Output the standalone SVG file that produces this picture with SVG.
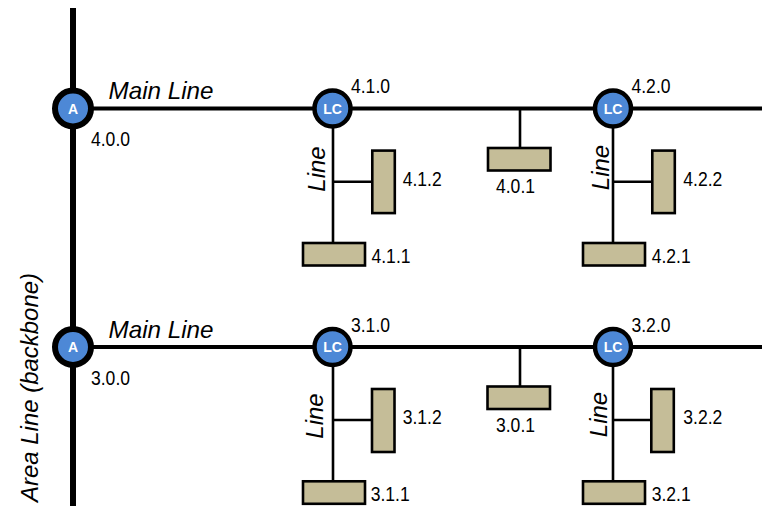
<svg xmlns="http://www.w3.org/2000/svg" width="762" height="506" viewBox="0 0 762 506">
<style>
.bb{stroke:#000;stroke-width:6;fill:none}
.ml{stroke:#000;stroke-width:4;fill:none}
.ln{stroke:#000;stroke-width:2.6;fill:none}
.dev{fill:#c5bd98;stroke:#000;stroke-width:2.6}
.area{fill:#4d88d6;stroke:#000;stroke-width:6}
.lc{fill:#4d88d6;stroke:#000;stroke-width:4.5}
.ct{font-family:"Liberation Sans",Arial,sans-serif;font-weight:bold;fill:#fff;text-anchor:middle}
.lbl{font-family:"Liberation Sans",Arial,sans-serif;font-size:20px;fill:#000}
.it{font-family:"Liberation Sans",Arial,sans-serif;font-size:24px;font-style:italic;fill:#000}
</style>
<g id="connectors">
  <line class="bb" x1="73" y1="8" x2="73" y2="506"/>
  <line class="ml" x1="73" y1="108.5" x2="762" y2="108.5"/>
  <line class="ml" x1="73" y1="347" x2="762" y2="347"/>
  <line class="ln" x1="333" y1="108.5" x2="333" y2="243"/>
  <line class="ln" x1="333" y1="181.7" x2="372" y2="181.7"/>
  <line class="ln" x1="520" y1="108.5" x2="520" y2="148"/>
  <line class="ln" x1="613" y1="108.5" x2="613" y2="243"/>
  <line class="ln" x1="613" y1="181.7" x2="652" y2="181.7"/>
  <line class="ln" x1="333" y1="347" x2="333" y2="481"/>
  <line class="ln" x1="333" y1="420" x2="372" y2="420"/>
  <line class="ln" x1="520" y1="347" x2="520" y2="386.5"/>
  <line class="ln" x1="613" y1="347" x2="613" y2="481"/>
  <line class="ln" x1="613" y1="420" x2="652" y2="420"/>
</g>
<g id="labels-lines">
  <text class="it" x="108.5" y="99" textLength="105" lengthAdjust="spacingAndGlyphs">Main Line</text>
  <text class="it" x="108.5" y="337.5" textLength="105" lengthAdjust="spacingAndGlyphs">Main Line</text>
  <text class="it" transform="translate(38,502) rotate(-90)" textLength="229" lengthAdjust="spacingAndGlyphs">Area Line (backbone)</text>
  <text class="it" text-anchor="middle" transform="translate(325,169) rotate(-90)">Line</text>
  <text class="it" text-anchor="middle" transform="translate(609,167.5) rotate(-90)">Line</text>
  <text class="it" text-anchor="middle" transform="translate(323,416) rotate(-90)">Line</text>
  <text class="it" text-anchor="middle" transform="translate(607,414.5) rotate(-90)">Line</text>
</g>
<g id="node-4.0.0">
  <circle class="area" cx="73" cy="108.5" r="18"/>
  <text class="ct" x="73" y="113.5" font-size="14">A</text>
  <text class="lbl" x="91" y="146" textLength="39" lengthAdjust="spacingAndGlyphs">4.0.0</text>
</g>
<g id="node-3.0.0">
  <circle class="area" cx="73" cy="347" r="18"/>
  <text class="ct" x="73" y="352" font-size="14">A</text>
  <text class="lbl" x="91" y="384.5" textLength="39" lengthAdjust="spacingAndGlyphs">3.0.0</text>
</g>
<g id="node-4.1.0">
  <circle class="lc" cx="332.5" cy="108.5" r="18"/>
  <text class="ct" x="332.5" y="113.5" font-size="14">LC</text>
  <text class="lbl" x="351" y="93" textLength="39" lengthAdjust="spacingAndGlyphs">4.1.0</text>
</g>
<g id="node-4.2.0">
  <circle class="lc" cx="613" cy="108.5" r="18"/>
  <text class="ct" x="613" y="113.5" font-size="14">LC</text>
  <text class="lbl" x="631.5" y="93" textLength="39" lengthAdjust="spacingAndGlyphs">4.2.0</text>
</g>
<g id="node-3.1.0">
  <circle class="lc" cx="332.5" cy="347" r="18"/>
  <text class="ct" x="332.5" y="352" font-size="14">LC</text>
  <text class="lbl" x="351" y="331.5" textLength="39" lengthAdjust="spacingAndGlyphs">3.1.0</text>
</g>
<g id="node-3.2.0">
  <circle class="lc" cx="613" cy="347" r="18"/>
  <text class="ct" x="613" y="352" font-size="14">LC</text>
  <text class="lbl" x="631.5" y="331.5" textLength="39" lengthAdjust="spacingAndGlyphs">3.2.0</text>
</g>
<g id="node-4.0.1">
  <rect class="dev" x="488" y="148" width="62.5" height="22.5"/>
  <text class="lbl" x="496" y="193" textLength="39" lengthAdjust="spacingAndGlyphs">4.0.1</text>
</g>
<g id="node-3.0.1">
  <rect class="dev" x="487.5" y="386.5" width="62.5" height="22.5"/>
  <text class="lbl" x="496" y="432" textLength="39" lengthAdjust="spacingAndGlyphs">3.0.1</text>
</g>
<g id="node-4.1.2">
  <rect class="dev" x="372.3" y="150.6" width="22.5" height="62.5"/>
  <text class="lbl" x="402.7" y="186" textLength="39" lengthAdjust="spacingAndGlyphs">4.1.2</text>
</g>
<g id="node-4.1.1">
  <rect class="dev" x="303" y="243" width="62" height="22.5"/>
  <text class="lbl" x="371.5" y="263" textLength="39" lengthAdjust="spacingAndGlyphs">4.1.1</text>
</g>
<g id="node-4.2.2">
  <rect class="dev" x="652.3" y="150.6" width="22.5" height="62.5"/>
  <text class="lbl" x="683.3" y="186" textLength="39" lengthAdjust="spacingAndGlyphs">4.2.2</text>
</g>
<g id="node-4.2.1">
  <rect class="dev" x="583" y="243" width="62" height="22.5"/>
  <text class="lbl" x="651.7" y="263" textLength="39" lengthAdjust="spacingAndGlyphs">4.2.1</text>
</g>
<g id="node-3.1.2">
  <rect class="dev" x="372" y="389" width="22.5" height="63"/>
  <text class="lbl" x="402.7" y="424" textLength="39" lengthAdjust="spacingAndGlyphs">3.1.2</text>
</g>
<g id="node-3.1.1">
  <rect class="dev" x="303" y="481.3" width="62" height="22.5"/>
  <text class="lbl" x="370.7" y="500.5" textLength="39" lengthAdjust="spacingAndGlyphs">3.1.1</text>
</g>
<g id="node-3.2.2">
  <rect class="dev" x="651.3" y="389" width="22.5" height="63"/>
  <text class="lbl" x="683.3" y="424" textLength="39" lengthAdjust="spacingAndGlyphs">3.2.2</text>
</g>
<g id="node-3.2.1">
  <rect class="dev" x="583" y="481.3" width="62" height="22.5"/>
  <text class="lbl" x="651.7" y="500.5" textLength="39" lengthAdjust="spacingAndGlyphs">3.2.1</text>
</g>
</svg>
